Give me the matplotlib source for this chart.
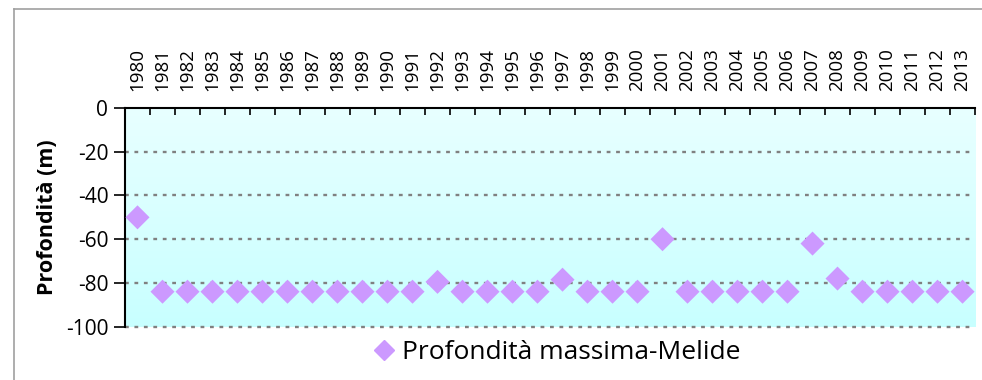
import numpy as np
import matplotlib
matplotlib.use("Agg")
import matplotlib.pyplot as plt
from matplotlib.lines import Line2D
from matplotlib.colors import LinearSegmentedColormap

plt.rcParams['font.family'] = ['Open Sans', 'DejaVu Sans']

years = [str(y) for y in range(1980, 2014)]
depth = [-50, -84, -84, -84, -84, -84, -84, -84, -84, -84, -84, -84,
         -79.5, -84, -84, -84, -84, -78.5, -84, -84, -84,
         -60, -84, -84, -84, -84, -84, -62, -78, -84, -84, -84, -84, -84]
yticks = [0, -20, -40, -60, -80, -100]

fig = plt.figure(figsize=(9.82, 3.8), dpi=100)
ax = fig.add_axes([0.1273, 0.1403, 0.8656, 0.5755])

x = np.arange(len(years))
n = len(years)

# background gradient: lighter at top, deeper cyan at bottom
grad = np.linspace(0, 1, 100).reshape(-1, 1)
cmap = LinearSegmentedColormap.from_list('bg', ['#E8FFFF', '#C8FFFF'])
ax.imshow(grad, cmap=cmap, aspect='auto', origin='upper',
          extent=(-0.5, n - 0.5, -100, 0), zorder=0)
ax.set_xlim(-0.5, n - 0.5)
ax.set_ylim(-100, 0)

for yv in yticks[1:]:
    ax.axhline(yv, color='#808080', lw=1.7, ls=(0, (1.6, 2.4)), zorder=1, clip_on=False)

ax.scatter(x, depth, marker='D', s=150, color='#CC99FF', edgecolors='none', zorder=3)

ax.spines['right'].set_visible(False)
ax.spines['bottom'].set_visible(False)
ax.spines['top'].set_linewidth(1.5)
ax.spines['left'].set_linewidth(1.5)

ax.xaxis.tick_top()
ax.set_xticks(x)
ax.set_xticklabels(years, rotation=90, fontsize=13.5)
ax.tick_params(axis='x', which='major', length=0, pad=12)
ax.set_xticks(np.arange(-0.5, n, 1), minor=True)
ax.tick_params(axis='x', which='minor', direction='in', length=5, width=1.2, top=True, bottom=False)

ax.set_yticks(yticks)
ax.set_yticklabels([str(v) for v in yticks], fontsize=15)
ax.tick_params(axis='y', direction='out', length=8, width=1.2, pad=4)
ax.set_ylabel('Profondità (m)', fontsize=15.5, fontweight='bold', labelpad=6)

handle = Line2D([], [], marker='D', color='#CC99FF', ls='none', markersize=10)
fig.legend([handle], ['Profondità massima-Melide'], loc='center',
           bbox_to_anchor=(0.566, 0.073), frameon=False, fontsize=19,
           handletextpad=0.2, handlelength=1.0)

# outer chart frame (left and top edges only visible)
fig.add_artist(Line2D([0.0143, 0.0143], [0, 0.976], color='#A0A0A0', lw=1.2))
fig.add_artist(Line2D([0.0143, 1.0], [0.976, 0.976], color='#A0A0A0', lw=1.2))

fig.savefig('out.png', dpi=100)
